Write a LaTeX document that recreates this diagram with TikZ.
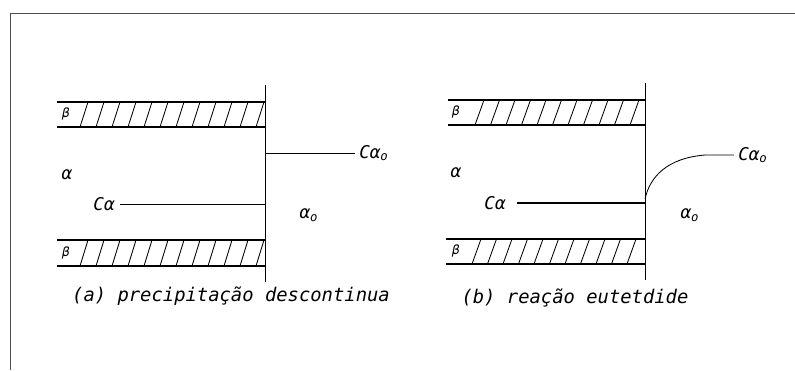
\documentclass[tikz,border=0pt]{standalone}
\usepackage{fontspec}
\setmonofont{DejaVu Sans Mono}
\usetikzlibrary{positioning, calc}

\begin{document}
\begin{tikzpicture}[
  x=0.025cm, y=-0.025cm,
  frameline/.style={draw=black!70, line width=0.5pt},
  bandline/.style={draw=black, line width=0.9pt},
  hatchline/.style={draw=black, line width=0.6pt},
  wallline/.style={draw=black, line width=0.6pt},
  profile/.style={draw=black, line width=0.6pt},
  lbl/.style={inner sep=0pt, font=\ttfamily\itshape\fontsize{12.5}{14}\selectfont},
  phase/.style={inner sep=0pt, font=\ttfamily\itshape\fontsize{9}{10}\selectfont},
  caption/.style={inner sep=0pt, font=\ttfamily\itshape\fontsize{13.4}{15}\selectfont}
]
\useasboundingbox (0,0) rectangle (795,370);

% frame (top and left edges only)
\draw[frameline] (10,370) -- (10,13) -- (795,13);

% ---- panel (a): precipitacao descontinua ----
\coordinate (a_top) at (265,85);
\coordinate (a_bot) at (265,282);
\draw[wallline] (a_top) -- (a_bot);

% beta lamellae
\draw[bandline] (57,102) -- (265,102);
\draw[bandline] (57,127) -- (265,127);
\draw[bandline] (57,240) -- (265,240);
\draw[bandline] (57,266) -- (265,266);
\foreach \i in {0,...,11} {
  \draw[hatchline] (80+16*\i,127) -- (88+16*\i,102);
  \draw[hatchline] (80+16*\i,266) -- (88+16*\i,240);
}
\node[phase] (a_b1) at (66,114) {β};
\node[phase] (a_b2) at (66,253) {β};

\node[lbl] (a_alpha) at (67,175) {α};
\node[lbl] (a_ca) at (104,204) {Cα};
\node[lbl] (a_alpha0) at (309,215) {α\textsubscript{o}};
\node[lbl, anchor=west] (a_ca0) at (359,153) {Cα\textsubscript{o}};

\coordinate (a_w1) at (a_top |- a_ca.east);
\coordinate (a_w2) at (a_top |- a_ca0.west);
\draw[profile] ([xshift=4pt]a_ca.east) -- (a_w1);
\draw[profile] (a_w2) -- ([xshift=-3pt]a_ca0.west);

\node[caption] (a_cap) at (231,296) {(a) precipitação descontinua};

% ---- panel (b): reacao eutetoide ----
\coordinate (b_top) at (645,83);
\coordinate (b_bot) at (645,280);
\draw[wallline] (b_top) -- (b_bot);

\draw[bandline] (448,100) -- (645,100);
\draw[bandline] (448,125) -- (645,125);
\draw[bandline] (446,239) -- (645,239);
\draw[bandline] (446,264) -- (645,264);
\foreach \i in {0,...,10} {
  \draw[hatchline] (475+15.5*\i,125) -- (484+15.5*\i,100);
  \draw[hatchline] (472+15.5*\i,264) -- (481+15.5*\i,239);
}
\node[phase] (b_b1) at (456,112) {β};
\node[phase] (b_b2) at (456,251) {β};

\node[lbl] (b_alpha) at (456,173) {α};
\node[lbl] (b_ca) at (495,203) {Cα};
\node[lbl] (b_alpha0) at (690,215) {α\textsubscript{o}};
\node[lbl, anchor=west] (b_ca0) at (738,155) {Cα\textsubscript{o}};

\coordinate (b_w1) at (b_top |- b_ca.east);
\coordinate (b_w2) at (645,199);
\draw[profile, line width=0.9pt] ([xshift=8pt]b_ca.east) -- (b_w1);
\draw[profile] (b_w2) .. controls (650,176) and (668,158) .. (705,155)
  -- ([xshift=-3pt]b_ca0.west);

\node[caption] (b_cap) at (575,298) {(b) reação eutetdide};

\end{tikzpicture}
\end{document}
